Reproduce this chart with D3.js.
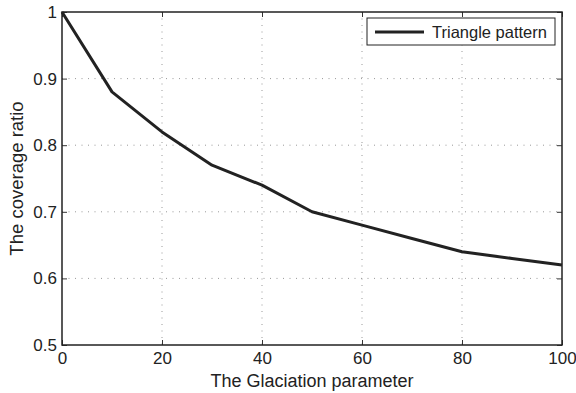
<!DOCTYPE html>
<html><head><meta charset="utf-8">
<script src="https://cdn.jsdelivr.net/npm/d3@7"></script>
<style>body{margin:0;background:#fff}svg{display:block}text{font-family:"Liberation Sans",Arial,Helvetica,sans-serif;fill:#222}</style>
</head><body><svg id="c" width="576" height="393"></svg>
<script>
const xValues = [0, 10, 20, 30, 40, 50, 60, 70, 80, 90, 100];
const coverage = [1.0, 0.88, 0.82, 0.77, 0.74, 0.70, 0.68, 0.66, 0.64, 0.63, 0.62];
const xTicks = [0, 20, 40, 60, 80, 100];
const yTicks = [0.5, 0.6, 0.7, 0.8, 0.9, 1];
const seriesName = "Triangle pattern";
const xLabel = "The Glaciation parameter";
const yLabel = "The coverage ratio";

const svg = d3.select("#c");
const L = 62, R = 562, T = 12, B = 345;
const x = d3.scaleLinear().domain([0, 100]).range([L, R]);
const y = d3.scaleLinear().domain([0.5, 1]).range([B, T]);

// grid
const g = svg.append("g");
g.selectAll(".gx").data(xTicks.slice(1, -1)).join("line")
  .attr("x1", d => x(d)).attr("x2", d => x(d)).attr("y1", T).attr("y2", B)
  .attr("stroke", "#999").attr("stroke-width", 1).attr("stroke-dasharray", "1,5.5");
g.selectAll(".gy").data(yTicks.slice(1, -1)).join("line")
  .attr("y1", d => y(d)).attr("y2", d => y(d)).attr("x1", L).attr("x2", R)
  .attr("stroke", "#999").attr("stroke-width", 1).attr("stroke-dasharray", "1,5.5");

// axes
const xAxis = d3.axisBottom(x).tickValues(xTicks).tickSize(-5).tickPadding(7).tickFormat(d3.format("d"));
const yAxis = d3.axisLeft(y).tickValues(yTicks).tickSize(-5).tickPadding(5).tickFormat(d => d === 1 ? "1" : d3.format(".1f")(d));
const xa = svg.append("g").attr("transform", `translate(0,${B})`).call(xAxis);
const ya = svg.append("g").attr("transform", `translate(${L},0)`).call(yAxis);
const xt = svg.append("g").attr("transform", `translate(0,${T})`).call(d3.axisTop(x).tickValues(xTicks).tickSize(-5).tickFormat(""));
const yr = svg.append("g").attr("transform", `translate(${R},0)`).call(d3.axisRight(y).tickValues(yTicks).tickSize(-5).tickFormat(""));
[xa, ya, xt, yr].forEach(a => {
  a.select(".domain").remove();
  a.selectAll("line").attr("stroke", "#333");
  a.selectAll("text").attr("font-size", 17).attr("fill", "#222").style("font-family", '"Liberation Sans",Arial,sans-serif');
});
svg.append("rect").attr("x", L).attr("y", T).attr("width", R - L).attr("height", B - T)
  .attr("fill", "none").attr("stroke", "#222").attr("stroke-width", 1.5);

// line
svg.append("path").datum(xValues.map((v, i) => [v, coverage[i]]))
  .attr("d", d3.line().x(d => x(d[0])).y(d => y(d[1])))
  .attr("fill", "none").attr("stroke", "#222").attr("stroke-width", 3).attr("stroke-linejoin", "round");

// legend
const lg = svg.append("g");
lg.append("rect").attr("x", 367).attr("y", 18).attr("width", 188).attr("height", 27)
  .attr("fill", "#fff").attr("stroke", "#222").attr("stroke-width", 1);
lg.append("line").attr("x1", 375).attr("x2", 424).attr("y1", 32).attr("y2", 32)
  .attr("stroke", "#222").attr("stroke-width", 3);
lg.append("text").attr("x", 432).attr("y", 38).attr("font-size", 16.5).text(seriesName);

// labels
svg.append("text").attr("x", (L + R) / 2).attr("y", 387).attr("text-anchor", "middle").attr("font-size", 18).text(xLabel);
svg.append("text").attr("transform", `translate(23,${(T + B) / 2}) rotate(-90)`).attr("text-anchor", "middle").attr("font-size", 18.5).text(yLabel);
</script></body></html>
